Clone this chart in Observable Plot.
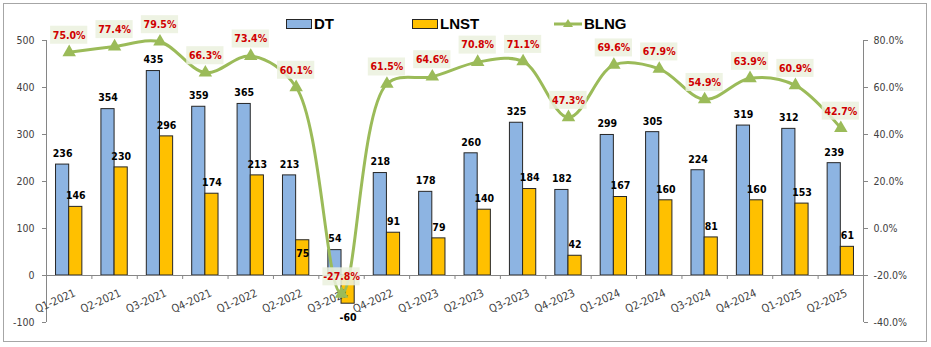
<!DOCTYPE html>
<html>
<head>
<meta charset="utf-8">
<script src="https://cdn.jsdelivr.net/npm/d3@7"></script>
<script src="https://cdn.jsdelivr.net/npm/@observablehq/plot@0.6"></script>
<style>
  html, body { margin: 0; padding: 0; background: #fff; }
  #wrap { position: relative; width: 931px; height: 347px; overflow: hidden; }
  #frame { position: absolute; left: 3px; top: 3px; width: 922px; height: 337px; border: 1.5px solid #a6a6a6; }
  #chart { position: absolute; left: 0; top: 0; }
  .lg { position: absolute; font-family: "Liberation Sans", Arial, sans-serif; font-weight: bold; font-size: 15px; color: #000; line-height: 1; }
  .sw { position: absolute; width: 24px; height: 8px; border: 1px solid #262626; }
</style>
</head>
<body>
<div id="wrap">
  <div id="frame"></div>
  <div id="chart"></div>
  <div class="sw" style="left:286px;top:19px;background:#8db4e2"></div>
  <div class="lg" style="left:314px;top:16px">DT</div>
  <div class="sw" style="left:412px;top:19px;background:#ffc000"></div>
  <div class="lg" style="left:440px;top:16px">LNST</div>
  <svg style="position:absolute;left:553px;top:16px" width="30" height="16">
    <line x1="1" y1="8" x2="29" y2="8" stroke="#9bbb59" stroke-width="3"/>
    <path d="M15,3 L20,11 L10,11 Z" fill="#9bbb59"/>
  </svg>
  <div class="lg" style="left:584px;top:16px">BLNG</div>
</div>
<script>
const quarters = ["Q1-2021","Q2-2021","Q3-2021","Q4-2021","Q1-2022","Q2-2022","Q3-2022","Q4-2022","Q1-2023","Q2-2023","Q3-2023","Q4-2023","Q1-2024","Q2-2024","Q3-2024","Q4-2024","Q1-2025","Q2-2025"];
const dt   = [236,354,435,359,365,213,54,218,178,260,325,182,299,305,224,319,312,239];
const lnst = [146,230,296,174,213,75,-60,91,79,140,184,42,167,160,81,160,153,61];
const blng = [75.0,77.4,79.5,66.3,73.4,60.1,-27.8,61.5,64.6,70.8,71.1,47.3,69.6,67.9,54.9,63.9,60.9,42.7];
const leftTicks  = [-100,0,100,200,300,400,500];
const rightTicks = [-40,-20,0,20,40,60,80];

const lMin = d3.min(leftTicks), lMax = d3.max(leftTicks);
const rMin = d3.min(rightTicks), rMax = d3.max(rightTicks);
const toLeft = p => (p - rMin) / (rMax - rMin) * (lMax - lMin) + lMin;
const fromLeft = v => (v - lMin) / (lMax - lMin) * (rMax - rMin) + rMin;

const rows = quarters.map((q, i) => ({q, i, dt: dt[i], lnst: lnst[i], blng: blng[i], b: toLeft(blng[i])}));
const insideLabels = new Set(["Q2-2022"]);
const bounds = d3.range(quarters.length + 1).map(k => k - 0.5);
const xMin = -0.5, xMax = quarters.length - 0.5;

const green = "#9bbb59", axisCol = "#868686";
const W = 931, H = 347;
const pxPerUnit = (H - 40 - 25) / (lMax - lMin);

const chart = Plot.plot({
  width: W, height: H,
  marginLeft: 46, marginRight: 68, marginTop: 40, marginBottom: 25,
  x: {domain: [xMin, xMax], axis: null},
  y: {domain: [lMin, lMax], axis: null},
  style: {fontFamily: "DejaVu Sans Condensed, DejaVu Sans, sans-serif", fontSize: "10px", color: "#404040", background: "transparent"},
  marks: [
    Plot.rect(rows, {x1: d => d.i - 0.29, x2: d => d.i, y1: 0, y2: "dt", fill: "#8db4e2", stroke: "#262626", strokeWidth: 1}),
    Plot.rect(rows, {x1: d => d.i, x2: d => d.i + 0.29, y1: 0, y2: "lnst", fill: "#ffc000", stroke: "#262626", strokeWidth: 1}),
    Plot.ruleY([0], {x1: xMin, x2: xMax, stroke: axisCol, strokeWidth: 1}),
    Plot.ruleX(bounds, {x: d => d, y1: 0, y2: -4 / pxPerUnit, stroke: axisCol}),
    Plot.ruleX([xMin], {y1: lMin, y2: lMax, stroke: axisCol}),
    Plot.ruleX([xMax], {y1: lMin, y2: lMax, stroke: axisCol}),
    Plot.axisY({anchor: "left", ticks: leftTicks, tickSize: 4, tickPadding: 8, stroke: axisCol, tickFormat: d => String(d), fill: "#404040", fontSize: 10.5}),
    Plot.axisY({anchor: "right", ticks: rightTicks.map(toLeft), tickSize: 4, tickPadding: 6, stroke: axisCol, tickFormat: d => fromLeft(d).toFixed(1) + "%", fill: "#404040", fontSize: 10.5}),
    Plot.text(rows, {x: "i", y: 0, text: "q", rotate: -24, textAnchor: "end", lineAnchor: "top", dx: 4, dy: 13, fill: "#404040", fontSize: 11}),
    Plot.text(rows, {x: d => d.i - 0.145, y: "dt", text: d => String(d.dt), dy: -11, fill: "#000", fontWeight: "bold", fontSize: 10.5}),
    Plot.text(rows.filter(d => d.lnst >= 0 && !insideLabels.has(d.q)), {x: d => d.i + 0.145, y: "lnst", text: d => String(d.lnst), dy: -11, fill: "#000", fontWeight: "bold", fontSize: 10.5}),
    Plot.text(rows.filter(d => d.lnst >= 0 && insideLabels.has(d.q)), {x: d => d.i + 0.145, y: "lnst", text: d => String(d.lnst), dy: 13, fill: "#000", fontWeight: "bold", fontSize: 10.5}),
    Plot.text(rows.filter(d => d.lnst < 0), {x: d => d.i + 0.145, y: "lnst", text: d => String(d.lnst), dy: 14, fill: "#000", fontWeight: "bold", fontSize: 10.5}),
    Plot.line(rows, {x: "i", y: "b", curve: "catmull-rom", stroke: green, strokeWidth: 3}),
    Plot.dot(rows, {x: "i", y: "b", symbol: "triangle", r: 5, fill: green, stroke: null}),
    Plot.rect(rows, {x1: d => d.i - 0.41, x2: d => d.i + 0.41, y1: d => d.b + 8 / pxPerUnit, y2: d => d.b + 26 / pxPerUnit, fill: "#ebf1de", fillOpacity: 0.85}),
    Plot.text(rows, {x: "i", y: "b", text: d => d.blng.toFixed(1) + "%", dy: -17, fill: "#d00000", fontWeight: "bold", fontSize: 10.5})
  ]
});
document.getElementById("chart").appendChild(chart);
</script>
</body>
</html>
